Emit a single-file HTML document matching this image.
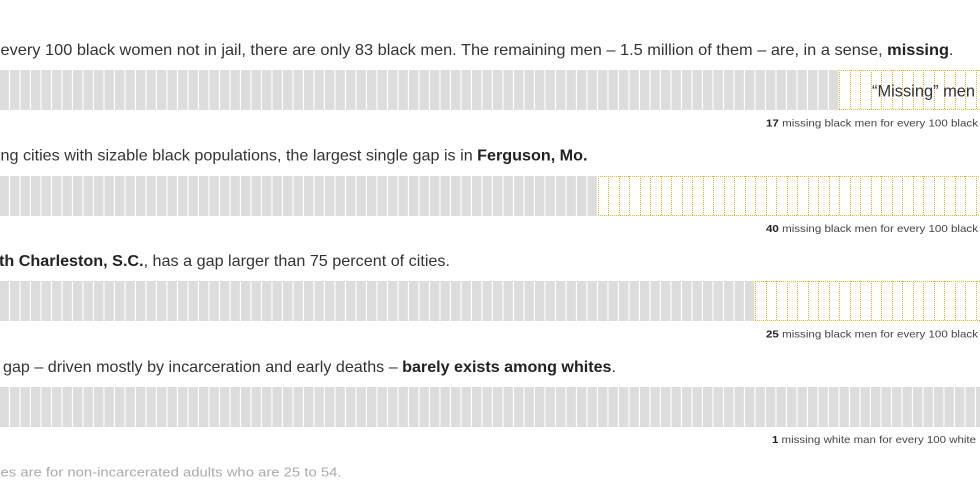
<!DOCTYPE html>
<html><head><meta charset="utf-8"><style>
html,body{margin:0;padding:0;background:#fff;}
svg{display:block;}
text{font-family:"Liberation Sans",Arial,sans-serif;}
</style></head><body>
<svg width="980" height="500" viewBox="0 0 980 500" xmlns="http://www.w3.org/2000/svg">
<defs>
<pattern id="g" patternUnits="userSpaceOnUse" x="-32" y="0" width="10.5" height="40">
<rect x="0" y="0" width="9.4" height="40" fill="#dcdcdc"/>
</pattern>
</defs>

<!-- Row 1 -->
<text x="0.5" y="55" font-size="16" fill="#333" textLength="953" lengthAdjust="spacingAndGlyphs">every 100 black women not in jail, there are only 83 black men. The remaining men – 1.5 million of them – are, in a sense, <tspan font-weight="bold" fill="#222">missing</tspan>.</text>
<g transform="translate(0,70)">
<rect x="-32" y="0" width="871" height="40" fill="url(#g)"/>
<path d="M839 0.5H1018M839 39.5H1018M839.5 0V40M850.5 0V40M860.5 0V40M871.5 0V40M881.5 0V40M892.5 0V40M902.5 0V40M913.5 0V40M923.5 0V40M934.5 0V40M944.5 0V40M955.5 0V40M965.5 0V40M976.5 0V40" fill="none" stroke="#e6b42a" stroke-width="1" stroke-dasharray="1 1"/>
</g>
<text x="872" y="96.7" font-size="16.5" fill="#333" textLength="103" lengthAdjust="spacingAndGlyphs">“Missing” men</text>
<text x="766" y="126.3" font-size="10.5" fill="#444" textLength="212" lengthAdjust="spacingAndGlyphs"><tspan font-weight="bold" fill="#222">17</tspan> missing black men for every 100 black</text>

<!-- Row 2 -->
<text x="0.5" y="160.6" font-size="16" fill="#333" textLength="587" lengthAdjust="spacingAndGlyphs">ng cities with sizable black populations, the largest single gap is in <tspan font-weight="bold" fill="#222">Ferguson, Mo.</tspan></text>
<g transform="translate(0,176)">
<rect x="-32" y="0" width="630" height="40" fill="url(#g)"/>
<path d="M598 0.5H1018M598 39.5H1018M598.5 0V40M608.5 0V40M619.5 0V40M629.5 0V40M640.5 0V40M650.5 0V40M661.5 0V40M671.5 0V40M682.5 0V40M692.5 0V40M703.5 0V40M713.5 0V40M724.5 0V40M734.5 0V40M745.5 0V40M755.5 0V40M766.5 0V40M776.5 0V40M787.5 0V40M797.5 0V40M808.5 0V40M818.5 0V40M829.5 0V40M839.5 0V40M850.5 0V40M860.5 0V40M871.5 0V40M881.5 0V40M892.5 0V40M902.5 0V40M913.5 0V40M923.5 0V40M934.5 0V40M944.5 0V40M955.5 0V40M965.5 0V40M976.5 0V40" fill="none" stroke="#e6b42a" stroke-width="1" stroke-dasharray="1 1"/>
</g>
<text x="766" y="231.9" font-size="10.5" fill="#444" textLength="212" lengthAdjust="spacingAndGlyphs"><tspan font-weight="bold" fill="#222">40</tspan> missing black men for every 100 black</text>

<!-- Row 3 -->
<text x="-1" y="266.2" font-size="16" fill="#333" textLength="451" lengthAdjust="spacingAndGlyphs"><tspan font-weight="bold" fill="#222">th Charleston, S.C.</tspan>, has a gap larger than 75 percent of cities.</text>
<g transform="translate(0,281)">
<rect x="-32" y="0" width="787" height="40" fill="url(#g)"/>
<path d="M755 0.5H1018M755 39.5H1018M755.5 0V40M766.5 0V40M776.5 0V40M787.5 0V40M797.5 0V40M808.5 0V40M818.5 0V40M829.5 0V40M839.5 0V40M850.5 0V40M860.5 0V40M871.5 0V40M881.5 0V40M892.5 0V40M902.5 0V40M913.5 0V40M923.5 0V40M934.5 0V40M944.5 0V40M955.5 0V40M965.5 0V40M976.5 0V40" fill="none" stroke="#e6b42a" stroke-width="1" stroke-dasharray="1 1"/>
</g>
<text x="766" y="337.5" font-size="10.5" fill="#444" textLength="212" lengthAdjust="spacingAndGlyphs"><tspan font-weight="bold" fill="#222">25</tspan> missing black men for every 100 black</text>

<!-- Row 4 -->
<text x="3" y="371.8" font-size="16" fill="#333" textLength="613" lengthAdjust="spacingAndGlyphs">gap – driven mostly by incarceration and early deaths – <tspan font-weight="bold" fill="#222">barely exists among whites</tspan>.</text>
<g transform="translate(0,387)">
<rect x="-32" y="0" width="1039.5" height="40" fill="url(#g)"/>
</g>
<text x="772" y="443.1" font-size="10.5" fill="#444" textLength="204" lengthAdjust="spacingAndGlyphs"><tspan font-weight="bold" fill="#222">1</tspan> missing white man for every 100 white</text>

<!-- Footer -->
<text x="0.5" y="476.5" font-size="13" fill="#aaa" textLength="341" lengthAdjust="spacingAndGlyphs">es are for non-incarcerated adults who are 25 to 54.</text>
</svg>
</body></html>
